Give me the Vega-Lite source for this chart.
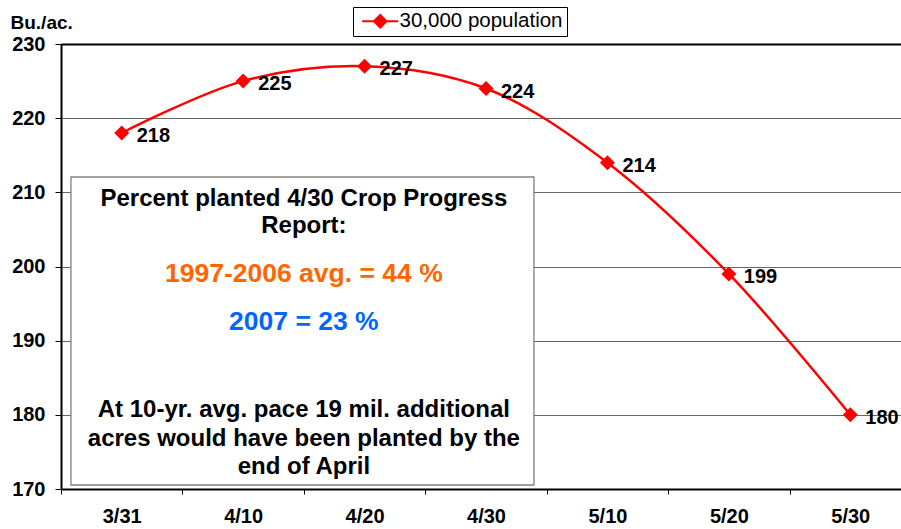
{
  "$schema": "https://vega.github.io/schema/vega-lite/v6.json",
  "width": 840,
  "height": 445,
  "autosize": "none",
  "padding": {"left": 61, "top": 44, "right": 0, "bottom": 40},
  "background": "white",
  "config": {"view": {"stroke": null}, "font": "Liberation Sans"},
  "resolve": {"scale": {"x": "independent"}, "axis": {"x": "independent", "y": "independent"}},
  "layer": [
    {
      "data": {"values": [{}]},
      "resolve": {"axis": {"x": "independent", "y": "independent"}},
      "layer": [
        {
          "mark": {"type": "rect", "fill": "white", "stroke": "#808080", "strokeWidth": 1.3},
          "encoding": {
            "x": {"datum": 0.082, "type": "quantitative", "scale": {"domain": [0, 7], "range": [0, 850], "nice": false, "zero": false},
                  "axis": {"orient": "top", "labels": false, "ticks": false, "grid": false, "title": null, "domainColor": "black", "domainWidth": 2}},
            "x2": {"datum": 3.895},
            "y": {"datum": 212.07, "type": "quantitative", "scale": {"domain": [170, 230], "nice": false, "zero": false}, "axis": null},
            "y2": {"datum": 170.54}
          }
        },
        {
          "mark": {"type": "text", "text": "Percent planted 4/30 Crop Progress", "fontSize": 24, "fontWeight": "bold", "align": "center", "baseline": "alphabetic", "color": "black"},
          "encoding": {"x": {"datum": 2, "type": "quantitative", "axis": null}, "y": {"datum": 208.16, "type": "quantitative", "axis": null}}
        },
        {
          "mark": {"type": "text", "text": "Report:", "fontSize": 24, "fontWeight": "bold", "align": "center", "baseline": "alphabetic", "color": "black"},
          "encoding": {"x": {"datum": 2, "type": "quantitative", "axis": null}, "y": {"datum": 204.48, "type": "quantitative", "axis": null}}
        },
        {
          "mark": {"type": "text", "text": "1997-2006 avg. = 44 %", "fontSize": 26.5, "fontWeight": "bold", "align": "center", "baseline": "alphabetic", "color": "#FF6600"},
          "encoding": {"x": {"datum": 2, "type": "quantitative", "axis": null}, "y": {"datum": 197.95, "type": "quantitative", "axis": null}}
        },
        {
          "mark": {"type": "text", "text": "2007 = 23 %", "fontSize": 26.5, "fontWeight": "bold", "align": "center", "baseline": "alphabetic", "color": "#0066FF"},
          "encoding": {"x": {"datum": 2, "type": "quantitative", "axis": null}, "y": {"datum": 191.44, "type": "quantitative", "axis": null}}
        },
        {
          "mark": {"type": "text", "text": "At 10-yr. avg. pace 19 mil. additional", "fontSize": 24, "fontWeight": "bold", "align": "center", "baseline": "alphabetic", "color": "black"},
          "encoding": {"x": {"datum": 2, "type": "quantitative", "axis": null}, "y": {"datum": 179.67, "type": "quantitative", "axis": null}}
        },
        {
          "mark": {"type": "text", "text": "acres would have been planted by the", "fontSize": 24, "fontWeight": "bold", "align": "center", "baseline": "alphabetic", "color": "black"},
          "encoding": {"x": {"datum": 2, "type": "quantitative", "axis": null}, "y": {"datum": 175.8, "type": "quantitative", "axis": null}}
        },
        {
          "mark": {"type": "text", "text": "end of April", "fontSize": 24, "fontWeight": "bold", "align": "center", "baseline": "alphabetic", "color": "black"},
          "encoding": {"x": {"datum": 2, "type": "quantitative", "axis": null}, "y": {"datum": 172.02, "type": "quantitative", "axis": null}}
        }
      ]
    },
    {
      "data": {
        "values": [
          {"date": "3/31", "yield": 218, "series": "30,000 population"},
          {"date": "4/10", "yield": 225, "series": "30,000 population"},
          {"date": "4/20", "yield": 227, "series": "30,000 population"},
          {"date": "4/30", "yield": 224, "series": "30,000 population"},
          {"date": "5/10", "yield": 214, "series": "30,000 population"},
          {"date": "5/20", "yield": 199, "series": "30,000 population"},
          {"date": "5/30", "yield": 180, "series": "30,000 population"}
        ]
      },
      "encoding": {
        "x": {
          "field": "date", "type": "ordinal", "sort": null,
          "scale": {"type": "band", "paddingInner": 0, "paddingOuter": 0, "range": [0, 850]},
          "axis": {"title": null, "labelAngle": 0, "tickBand": "extent", "grid": false, "domainColor": "black", "domainWidth": 2,
                   "tickColor": "black", "tickSize": 5, "tickWidth": 1, "labelFontSize": 20, "labelFontWeight": "bold", "labelColor": "black", "labelPadding": 12}
        },
        "y": {
          "field": "yield", "type": "quantitative",
          "scale": {"domain": [170, 230], "nice": false, "zero": false},
          "axis": {"values": [170, 180, 190, 200, 210, 220, 230], "grid": true, "gridColor": "#666666", "gridWidth": 1,
                   "domainColor": "black", "domainWidth": 2, "tickColor": "black", "tickSize": 6, "tickWidth": 1,
                   "labelFontSize": 20, "labelFontWeight": "bold", "labelColor": "black", "labelPadding": 10,
                   "title": "Bu./ac.", "titleAngle": 0, "titleAlign": "left", "titleBaseline": "alphabetic", "titleX": -51, "titleY": -16,
                   "titleFontSize": 19, "titleFontWeight": "bold", "titleColor": "black"}
        }
      },
      "layer": [
        {
          "mark": {"type": "line", "interpolate": "catmull-rom", "strokeWidth": 2.5},
          "encoding": {
            "color": {
              "field": "series", "type": "nominal",
              "scale": {"range": ["#FF0000"]},
              "legend": {
                "title": null, "orient": "none", "legendX": 292, "legendY": -37,
                "direction": "vertical",
                "symbolType": "M-4,0H4M0,-1.4L1.4,0L0,1.4L-1.4,0Z",
                "symbolSize": 81, "symbolStrokeWidth": 2, "symbolFillColor": "#FF0000", "symbolStrokeColor": "#FF0000",
                "symbolOffset": 13, "labelOffset": 9, "labelLimit": 400,
                "labelFontSize": 20.5, "labelFontWeight": "normal", "labelColor": "black", "labelFont": "Liberation Sans",
                "padding": 4, "strokeColor": "black", "fillColor": "white", "cornerRadius": 0
              }
            }
          }
        },
        {
          "mark": {"type": "point", "shape": "diamond", "filled": true, "size": 225, "color": "#FF0000", "opacity": 1}
        },
        {
          "mark": {"type": "text", "align": "left", "baseline": "middle", "dx": 15, "dy": 3, "fontSize": 20, "fontWeight": "bold", "color": "black"},
          "encoding": {"text": {"field": "yield", "type": "quantitative"}}
        }
      ]
    }
  ]
}
